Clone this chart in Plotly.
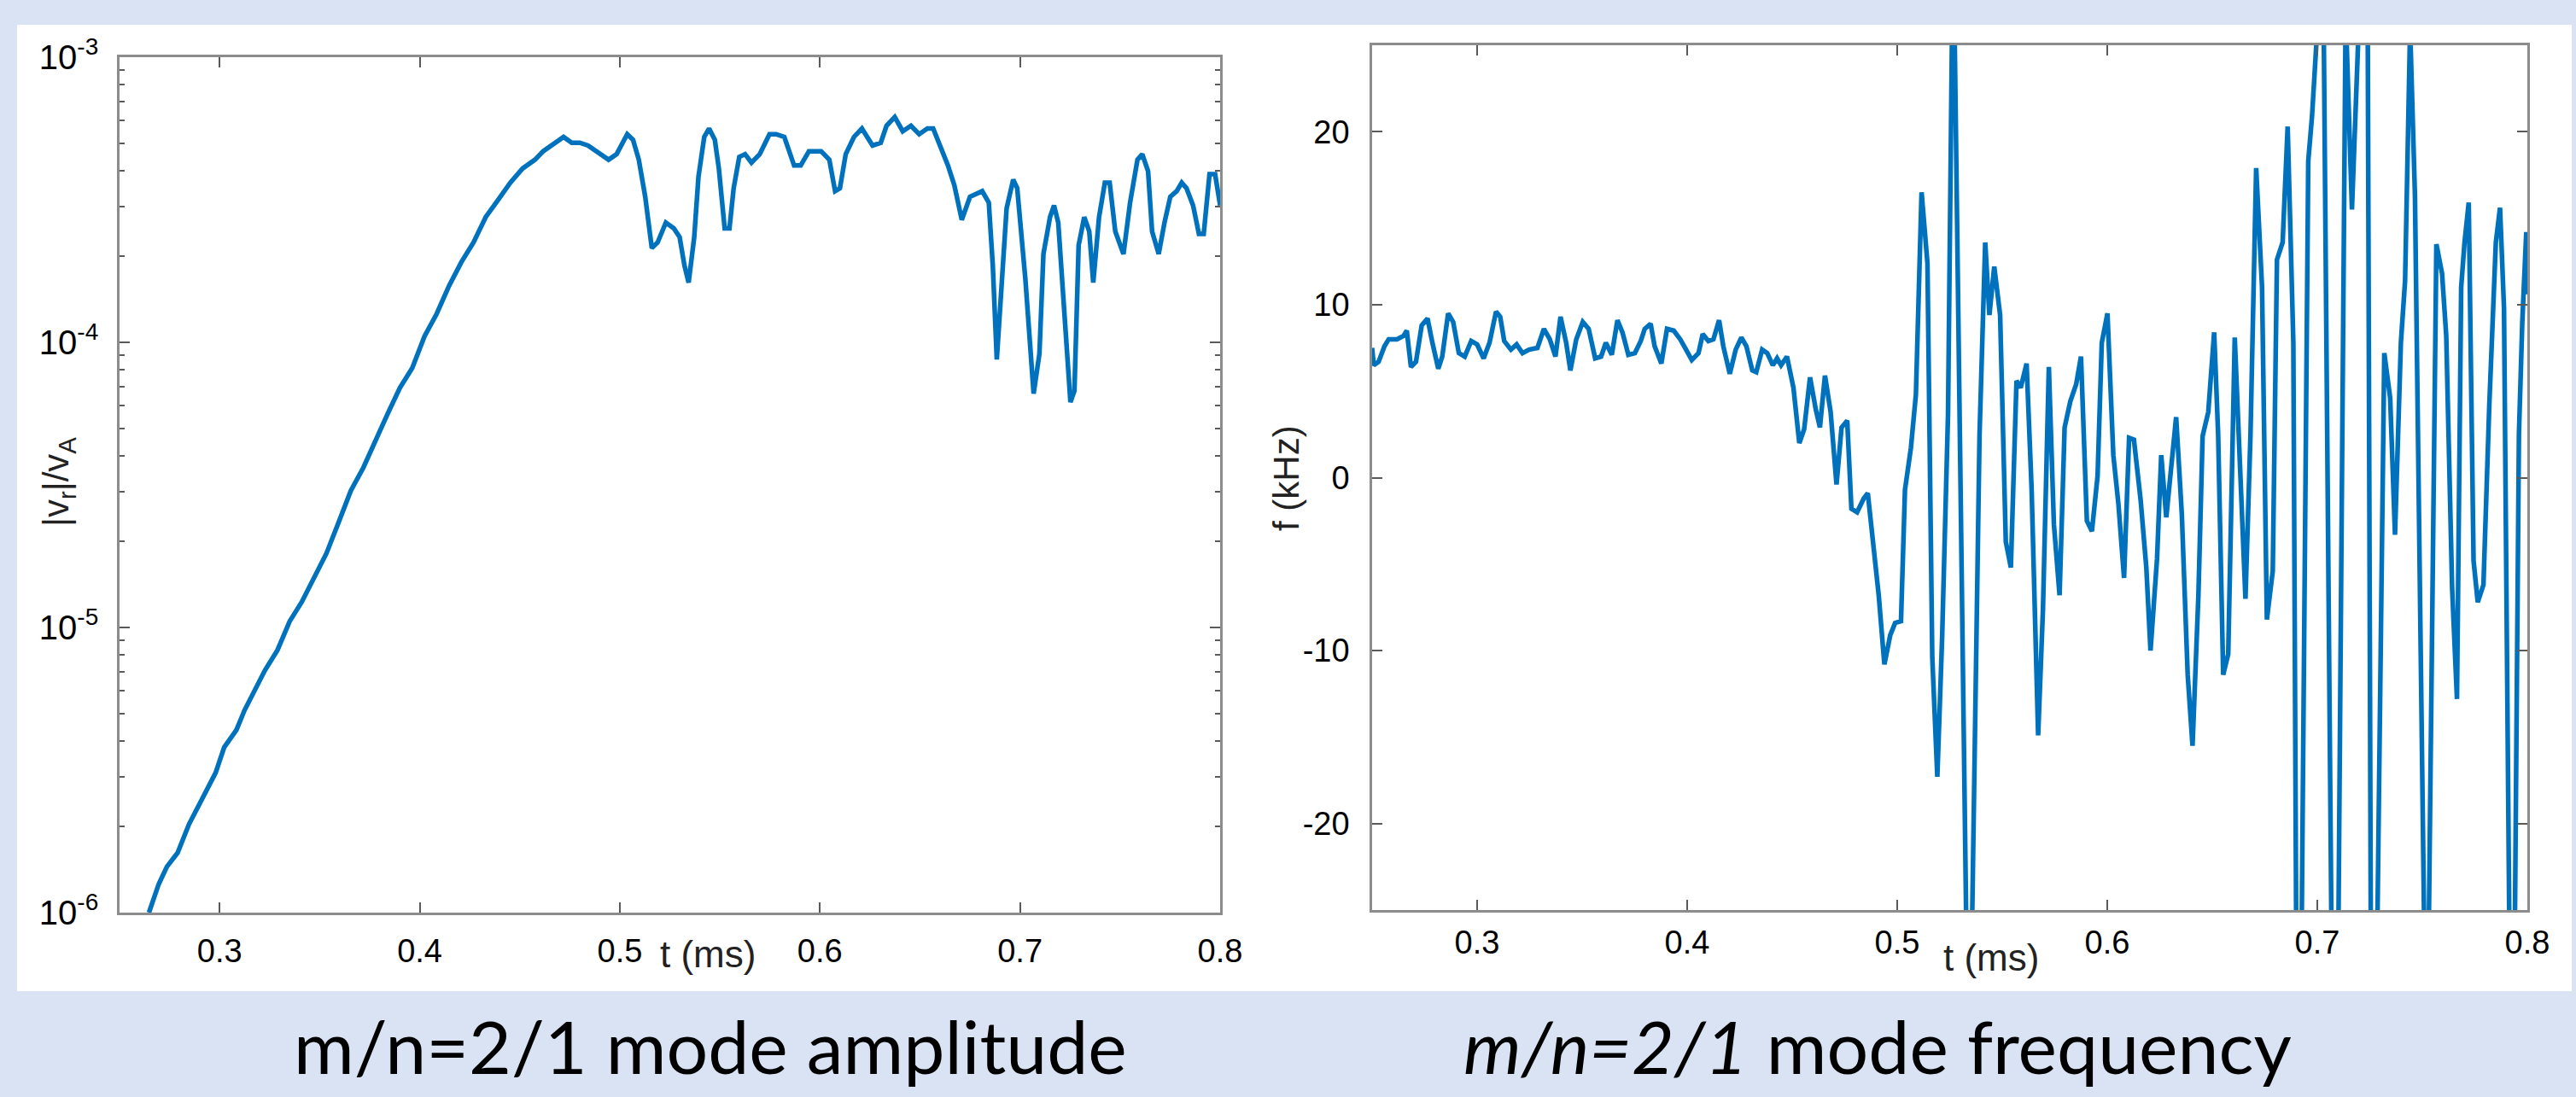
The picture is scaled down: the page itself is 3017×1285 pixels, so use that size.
import plotly.graph_objects as go

# ---------------- data ----------------
t_amp = [0.2647, 0.2696, 0.2737, 0.2790, 0.2847, 0.2900, 0.2940, 0.2980, 0.3023, 0.3084,
         0.3125, 0.3186, 0.3227, 0.3289, 0.3350, 0.3411, 0.3473, 0.3534, 0.3595, 0.3656,
         0.3718, 0.3779, 0.3840, 0.3901, 0.3963, 0.4024, 0.4085, 0.4147, 0.4208, 0.4269,
         0.4330, 0.4392, 0.4453, 0.4514, 0.4576, 0.4617, 0.4678, 0.4719, 0.4760, 0.4800,
         0.4841, 0.4903, 0.4944, 0.4984, 0.5037, 0.5066, 0.5095, 0.5127, 0.5160, 0.5189,
         0.5230, 0.5270, 0.5299, 0.5323, 0.5344, 0.5372, 0.5393, 0.5422, 0.5446, 0.5475,
         0.5495, 0.5524, 0.5548, 0.5569, 0.5597, 0.5626, 0.5658, 0.5699, 0.5748, 0.5781,
         0.5822, 0.5871, 0.5904, 0.5945, 0.6006, 0.6047, 0.6076, 0.6100, 0.6129, 0.6170,
         0.6210, 0.6263, 0.6304, 0.6333, 0.6374, 0.6414, 0.6455, 0.6496, 0.6537, 0.6566,
         0.6599, 0.6640, 0.6672, 0.6709, 0.6750, 0.6782, 0.6811, 0.6844, 0.6864, 0.6884,
         0.6905, 0.6933, 0.6966, 0.6986, 0.7027, 0.7068, 0.7097, 0.7117, 0.7150, 0.7170,
         0.7191, 0.7219, 0.7252, 0.7272, 0.7293, 0.7321, 0.7346, 0.7366, 0.7395, 0.7424,
         0.7448, 0.7476, 0.7517, 0.7550, 0.7587, 0.7611, 0.7640, 0.7660, 0.7693, 0.7722,
         0.7751, 0.7783, 0.7808, 0.7832, 0.7865, 0.7894, 0.7918, 0.7947, 0.7975, 0.8000]
amp = [1.00e-6, 1.26e-6, 1.45e-6, 1.62e-6, 2.04e-6, 2.40e-6, 2.75e-6, 3.09e-6, 3.80e-6, 4.37e-6,
       5.13e-6, 6.17e-6, 7.08e-6, 8.32e-6, 1.05e-5, 1.23e-5, 1.51e-5, 1.82e-5, 2.34e-5, 3.02e-5,
       3.63e-5, 4.57e-5, 5.62e-5, 6.92e-5, 8.13e-5, 1.05e-4, 1.26e-4, 1.58e-4, 1.91e-4, 2.24e-4,
       2.75e-4, 3.16e-4, 3.63e-4, 4.07e-4, 4.37e-4, 4.68e-4, 5.01e-4, 5.25e-4, 5.01e-4, 5.01e-4,
       4.90e-4, 4.57e-4, 4.37e-4, 4.57e-4, 5.37e-4, 5.13e-4, 4.37e-4, 3.24e-4, 2.14e-4, 2.24e-4,
       2.63e-4, 2.51e-4, 2.34e-4, 1.86e-4, 1.62e-4, 2.34e-4, 3.80e-4, 5.25e-4, 5.62e-4, 5.13e-4,
       4.07e-4, 2.51e-4, 2.51e-4, 3.47e-4, 4.47e-4, 4.57e-4, 4.27e-4, 4.57e-4, 5.37e-4, 5.37e-4,
       5.25e-4, 4.17e-4, 4.17e-4, 4.68e-4, 4.68e-4, 4.37e-4, 3.39e-4, 3.47e-4, 4.57e-4, 5.25e-4,
       5.62e-4, 4.90e-4, 5.01e-4, 5.75e-4, 6.17e-4, 5.50e-4, 5.75e-4, 5.37e-4, 5.62e-4, 5.62e-4,
       4.90e-4, 4.17e-4, 3.55e-4, 2.69e-4, 3.24e-4, 3.31e-4, 3.39e-4, 3.09e-4, 1.86e-4, 8.71e-5,
       1.48e-4, 2.95e-4, 3.72e-4, 3.47e-4, 1.66e-4, 6.61e-5, 9.12e-5, 2.04e-4, 2.75e-4, 3.02e-4,
       2.63e-4, 1.32e-4, 6.17e-5, 6.76e-5, 2.19e-4, 2.75e-4, 2.45e-4, 1.62e-4, 2.75e-4, 3.63e-4,
       3.63e-4, 2.45e-4, 2.04e-4, 3.09e-4, 4.37e-4, 4.57e-4, 3.98e-4, 2.45e-4, 2.04e-4, 2.63e-4,
       3.24e-4, 3.39e-4, 3.63e-4, 3.47e-4, 3.02e-4, 2.40e-4, 2.40e-4, 3.89e-4, 3.89e-4, 3.02e-4]

t_freq = [0.2500, 0.2508, 0.2531, 0.2559, 0.2579, 0.2618, 0.2650, 0.2665, 0.2685, 0.2709,
          0.2736, 0.2764, 0.2787, 0.2815, 0.2834, 0.2862, 0.2886, 0.2913, 0.2941, 0.2972,
          0.3000, 0.3031, 0.3059, 0.3090, 0.3110, 0.3129, 0.3161, 0.3188, 0.3216, 0.3247,
          0.3287, 0.3318, 0.3346, 0.3373, 0.3397, 0.3424, 0.3444, 0.3472, 0.3503, 0.3531,
          0.3562, 0.3590, 0.3613, 0.3641, 0.3668, 0.3692, 0.3720, 0.3751, 0.3779, 0.3798,
          0.3826, 0.3845, 0.3877, 0.3904, 0.3936, 0.3967, 0.3995, 0.4022, 0.4054, 0.4074,
          0.4101, 0.4125, 0.4152, 0.4172, 0.4203, 0.4231, 0.4258, 0.4282, 0.4310, 0.4329,
          0.4357, 0.4381, 0.4408, 0.4428, 0.4447, 0.4475, 0.4506, 0.4534, 0.4557, 0.4585,
          0.4613, 0.4632, 0.4656, 0.4683, 0.4711, 0.4735, 0.4762, 0.4782, 0.4809, 0.4841,
          0.4860, 0.4888, 0.4912, 0.4939, 0.4967, 0.4990, 0.5018, 0.5037, 0.5065, 0.5089,
          0.5116, 0.5144, 0.5167, 0.5191, 0.5214, 0.5242, 0.5262, 0.5272, 0.5285, 0.5313,
          0.5330, 0.5355, 0.5392, 0.5419, 0.5439, 0.5462, 0.5490, 0.5517, 0.5541, 0.5568,
          0.5588, 0.5616, 0.5640, 0.5671, 0.5694, 0.5722, 0.5746, 0.5773, 0.5797, 0.5824,
          0.5852, 0.5875, 0.5903, 0.5927, 0.5954, 0.5974, 0.6001, 0.6029, 0.6053, 0.6080,
          0.6104, 0.6127, 0.6159, 0.6186, 0.6206, 0.6237, 0.6257, 0.6281, 0.6304, 0.6328,
          0.6355, 0.6383, 0.6406, 0.6434, 0.6454, 0.6481, 0.6509, 0.6528, 0.6552, 0.6576,
          0.6607, 0.6630, 0.6658, 0.6682, 0.6709, 0.6737, 0.6760, 0.6788, 0.6808, 0.6835,
          0.6859, 0.6886, 0.6900, 0.6925, 0.6957, 0.6975, 0.7005, 0.7030, 0.7068, 0.7100,
          0.7135, 0.7165, 0.7200, 0.7240, 0.7255, 0.7285, 0.7319, 0.7347, 0.7370, 0.7398,
          0.7418, 0.7442, 0.7465, 0.7510, 0.7530, 0.7567, 0.7594, 0.7614, 0.7642, 0.7665,
          0.7685, 0.7701, 0.7721, 0.7744, 0.7764, 0.7791, 0.7819, 0.7850, 0.7870, 0.7889,
          0.7915, 0.7940, 0.7960, 0.7976, 0.7995, 0.8000]
freq = [7.5, 6.5, 6.7, 7.6, 8.0, 8.0, 8.2, 8.5, 6.4, 6.7,
        8.8, 9.2, 7.8, 6.3, 7.0, 9.5, 9.0, 7.2, 7.0, 7.9,
        7.7, 6.9, 7.8, 9.6, 9.3, 7.9, 7.4, 7.7, 7.2, 7.4,
        7.5, 8.6, 8.0, 7.0, 9.3, 7.8, 6.2, 8.0, 9.0, 8.6,
        6.9, 7.0, 7.8, 7.1, 9.1, 8.4, 7.1, 7.2, 7.9, 8.6,
        8.9, 7.6, 6.6, 8.6, 8.5, 8.0, 7.4, 6.8, 7.2, 8.3,
        7.9, 8.0, 9.1, 7.6, 6.0, 7.4, 8.1, 7.6, 6.2, 6.1,
        7.4, 7.2, 6.5, 6.9, 6.5, 7.0, 5.2, 2.0, 2.8, 5.8,
        3.9, 2.9, 5.9, 3.8, -0.4, 2.9, 3.3, -1.8, -2.0, -1.2,
        -0.9, -4.3, -6.8, -10.8, -9.1, -8.4, -8.3, -0.7, 1.7, 4.8,
        16.5, 12.4, -10.4, -17.3, -9.2, 3.7, 27.0, 27.0, 15.5, -12.8,
        -27.0, -27.0, 2.5, 13.6, 9.4, 12.2, 9.4, -3.7, -5.2, 5.6,
        5.2, 6.6, -0.7, -14.9, -7.6, 6.4, -2.7, -6.8, 2.9, 4.4,
        5.4, 7.0, -2.5, -3.1, 0.1, 7.8, 9.5, 1.3, -1.5, -5.8,
        2.3, 2.2, -1.3, -5.2, -10.0, -4.7, 1.3, -2.3, 0.9, 3.5,
        -2.1, -11.4, -15.5, -6.8, 2.4, 3.8, 8.4, 2.5, -11.4, -10.2,
        8.1, 0.9, -7.0, 2.5, 17.9, 11.0, -8.2, -5.4, 12.6, 13.6,
        20.3, 7.8, -27.0, -27.0, 18.3, 20.9, 27.0, 27.0, -27.0, -27.0,
        27.0, 15.5, 27.0, 27.0, -27.0, -27.0, 7.2, 4.6, -3.3, 7.8,
        11.4, 26.0, 16.3, -27.0, -27.0, 13.5, 11.8, 8.2, -6.4, -12.8,
        11.0, 13.6, 15.9, -4.8, -7.2, -6.2, 4.2, 13.6, 15.6, 9.8,
        -27.0, -27.0, 2.5, 9.0, 14.2, 10.6]

x_ticks = [0.3, 0.4, 0.5, 0.6, 0.7, 0.8]
x_tick_labels = ["0.3", "0.4", "0.5", "0.6", "0.7", "0.8"]
amp_ticks = [1e-6, 1e-5, 1e-4, 1e-3]
amp_tick_labels = ["10<sup>-6</sup>", "10<sup>-5</sup>", "10<sup>-4</sup>", "10<sup>-3</sup>"]
freq_ticks = [-20, -10, 0, 10, 20]
freq_tick_labels = ["-20", "-10", "0", "10", "20"]

# ---------------- styling ----------------
W, H = 3017, 1285
BG = "#DAE3F3"
LINE = "#0072BD"
AX = "#8c8c8c"
TICKC = "#5a5a5a"
FONT = "Liberation Sans, Arial, sans-serif"


def px_x(p):
    return p / W


def px_y(p):
    return 1 - p / H


fig = go.Figure()
fig.add_trace(go.Scatter(x=t_amp, y=amp, mode="lines", xaxis="x", yaxis="y",
                         line=dict(color=LINE, width=5.5), showlegend=False))
fig.add_trace(go.Scatter(x=t_freq, y=freq, mode="lines", xaxis="x2", yaxis="y2",
                         line=dict(color=LINE, width=5.5), showlegend=False))

common_axis = dict(showline=True, linecolor=AX, linewidth=2.5, mirror="ticks",
                   ticks="inside", tickcolor=TICKC, tickwidth=1.5, ticklen=12,
                   showgrid=False, zeroline=False, automargin=False)
tick_font = dict(family=FONT, size=38, color="black")

minor_vals = [m * 10 ** e for e in (-6, -5, -4) for m in range(2, 10)]

fig.update_layout(
    width=W, height=H,
    margin=dict(l=0, r=0, t=0, b=0),
    paper_bgcolor=BG, plot_bgcolor="white",
    font=dict(family=FONT, color="black"),
    xaxis=dict(domain=[px_x(140), px_x(1429)], range=[0.25, 0.8], anchor="y",
               tickmode="array", tickvals=x_ticks, ticktext=x_tick_labels,
               ticklabelstandoff=10, tickfont=tick_font, **common_axis),
    yaxis=dict(domain=[px_y(1069), px_y(67)], type="log", range=[-6, -3], anchor="x",
               tickmode="array", tickvals=amp_ticks, ticktext=amp_tick_labels,
               ticklabelstandoff=14, tickfont=dict(family=FONT, size=40, color="black"),
               minor=dict(tickmode="array", tickvals=minor_vals, ticks="inside",
                          ticklen=6, tickcolor=TICKC, tickwidth=1.5, showgrid=False),
               **common_axis),
    xaxis2=dict(domain=[px_x(1607), px_x(2960)], range=[0.25, 0.8], anchor="y2",
                tickmode="array", tickvals=x_ticks, ticktext=x_tick_labels,
                ticklabelstandoff=3, tickfont=tick_font, **common_axis),
    yaxis2=dict(domain=[px_y(1066), px_y(53)], range=[-25, 25], anchor="x2",
                tickmode="array", tickvals=freq_ticks, ticktext=freq_tick_labels,
                ticklabelstandoff=16, tickfont=tick_font, **common_axis),
)

# white panel behind plots
fig.add_shape(type="rect", xref="paper", yref="paper",
              x0=px_x(20), x1=px_x(3012), y0=px_y(1161), y1=px_y(29),
              fillcolor="white", line=dict(width=0), layer="below")

ann_font = dict(family=FONT, size=44, color="#222")
fig.add_annotation(x=px_x(829), y=px_y(1117), xref="paper", yref="paper",
                   text="t (ms)", showarrow=False, font=ann_font,
                   xanchor="center", yanchor="middle")
fig.add_annotation(x=px_x(2332), y=px_y(1121), xref="paper", yref="paper",
                   text="t (ms)", showarrow=False, font=ann_font,
                   xanchor="center", yanchor="middle")
fig.add_annotation(x=px_x(68), y=px_y(565), xref="paper", yref="paper",
                   text="|v<sub>r</sub>|/v<sub>A</sub>", showarrow=False,
                   font=dict(family=FONT, size=42, color="#222"), textangle=-90,
                   xanchor="center", yanchor="middle")
fig.add_annotation(x=px_x(1506), y=px_y(560), xref="paper", yref="paper",
                   text="f (kHz)", showarrow=False,
                   font=dict(family=FONT, size=42, color="#222"), textangle=-90,
                   xanchor="center", yanchor="middle")

cap_font = dict(family="Lato, Noto Sans, sans-serif", size=86, color="black")
fig.add_annotation(x=px_x(832), y=px_y(1224), xref="paper", yref="paper",
                   text="m/n=2/1 mode amplitude", showarrow=False, font=cap_font,
                   xanchor="center", yanchor="middle")
fig.add_annotation(x=px_x(2199), y=px_y(1224), xref="paper", yref="paper",
                   text="<i>m/n=2/1</i> mode frequency", showarrow=False, font=cap_font,
                   xanchor="center", yanchor="middle")

fig.write_html("out.html",
               config={"displayModeBar": False},
               post_script="document.body.style.margin='0';"
                           "document.body.style.overflow='hidden';")
